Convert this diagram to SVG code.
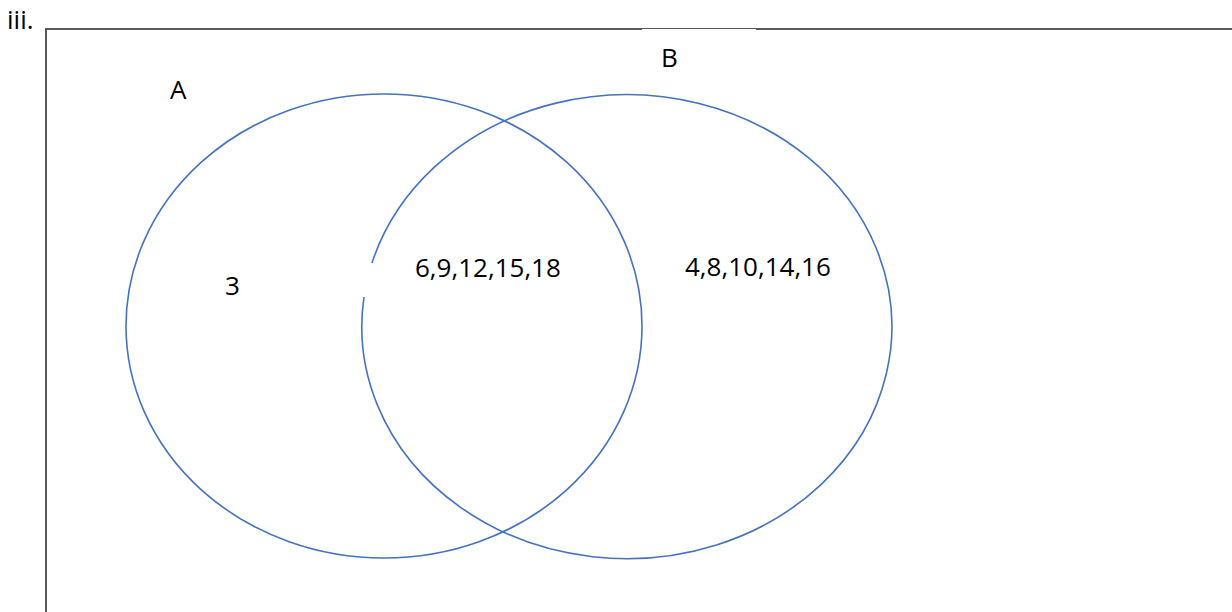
<svg xmlns="http://www.w3.org/2000/svg" width="1232" height="612" viewBox="0 0 1232 612">
<style>
.t{font-family:"Open Sans","Liberation Sans",sans-serif;font-size:26px;fill:#000}
.c{fill:none;stroke:#4472C4;stroke-width:1.6}
.f{stroke:#595959;stroke-width:2;fill:none}
</style>
<rect width="1232" height="612" fill="#fff"/>
<g id="frame">
<line class="f" x1="46" y1="29" x2="642" y2="29"/>
<line x1="642" y1="28.5" x2="756" y2="28.5" stroke="#595959" stroke-width="1"/>
<line class="f" x1="756" y1="29" x2="1232" y2="29"/>
<line class="f" x1="46" y1="28" x2="46" y2="612"/>
</g>
<g id="setA">
<ellipse class="c" cx="384" cy="326" rx="258" ry="232"/>
</g>
<g id="setB">
<path class="c" d="M372 263 A265 232 0 1 1 364 297"/>
</g>
<g id="labels">
<text class="t" x="7" y="29">iii.</text>
<text class="t" x="170" y="99">A</text>
<text class="t" x="661" y="67">B</text>
<text class="t" x="225" y="295">3</text>
<text class="t" x="415" y="277">6,9,12,15,18</text>
<text class="t" x="685" y="276">4,8,10,14,16</text>
</g>
</svg>
